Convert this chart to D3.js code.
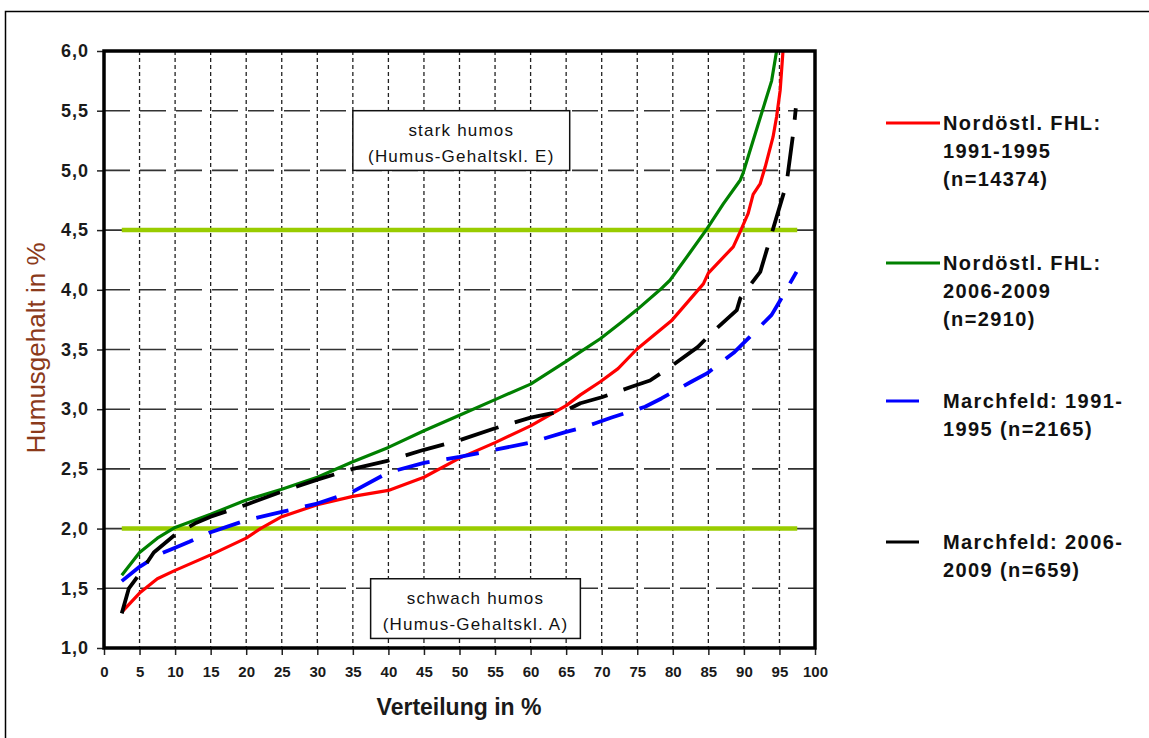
<!DOCTYPE html>
<html><head><meta charset="utf-8">
<script src="https://cdn.jsdelivr.net/npm/d3@7"></script>
<style>body{margin:0;background:#fff;} svg{display:block;}</style>
</head><body>
<svg id="c" width="1149" height="738"></svg>
<script>
// ---- data ----
const xTicks = [0,5,10,15,20,25,30,35,40,45,50,55,60,65,70,75,80,85,90,95,100];
const yTicks = [1.0,1.5,2.0,2.5,3.0,3.5,4.0,4.5,5.0,5.5,6.0];
const thresholds = [2.0, 4.5];

const redX = [2.5,5,7.5,10,15,20,22,25,30,35,40,45,50,55,60,65,67,69.8,72.3,74.9,79.8,84.3,85,88.5,89.5,90.6,91.3,92.3,93,94.1,94.6,95.1,95.5];
const redY = [1.30,1.46,1.58,1.65,1.78,1.92,2.0,2.10,2.20,2.27,2.32,2.43,2.59,2.72,2.86,3.03,3.12,3.23,3.34,3.50,3.74,4.05,4.14,4.36,4.49,4.64,4.80,4.89,5.03,5.28,5.45,5.67,6.0];

const greenX = [2.5,5,7.5,10,15,20,25,30,35,40,45,50,55,60,65,67,69.8,72.6,74.9,78.2,79.6,82.4,84.8,87.1,89.5,89.9,91.3,92.5,93.9,94.6];
const greenY = [1.61,1.80,1.92,2.01,2.12,2.24,2.33,2.43,2.56,2.68,2.82,2.95,3.08,3.21,3.40,3.48,3.59,3.72,3.83,4.0,4.08,4.31,4.51,4.72,4.92,4.98,5.25,5.48,5.75,6.0];

const blueX = [2.5,5,8,10,12,15,20,25,30,35,40,45,50,55,60,65,67,69,71.4,76.1,78.4,82.6,84.8,88.7,90.4,93.9,95.1,97.4];
const blueY = [1.56,1.68,1.79,1.84,1.89,1.97,2.07,2.14,2.21,2.31,2.47,2.55,2.60,2.66,2.72,2.81,2.84,2.88,2.93,3.02,3.09,3.23,3.30,3.48,3.58,3.79,3.91,4.15];

const blackX = [2.5,3.5,5,7,10,13,15,20,25,30,35,40,45,50,55,60,65,67,70,74.3,76.8,80,83.5,85.5,89,89.5,92.3,93.2,96,97,97.3];
const blackY = [1.29,1.50,1.62,1.80,1.95,2.05,2.10,2.20,2.31,2.41,2.50,2.57,2.66,2.74,2.84,2.93,2.99,3.05,3.10,3.19,3.24,3.37,3.52,3.64,3.83,3.93,4.15,4.33,4.89,5.34,5.52];

const seriesNames = [
  ["Nordöstl. FHL:", "1991-1995", "(n=14374)"],
  ["Nordöstl. FHL:", "2006-2009", "(n=2910)"],
  ["Marchfeld: 1991-", "1995 (n=2165)"],
  ["Marchfeld: 2006-", "2009 (n=659)"]
];
const boxTexts = [
  {x1:35, x2:65.5, y1:5.5, y2:5.0, lines:["stark humos","(Humus-Gehaltskl. E)"]},
  {x1:37.5, x2:67, y1:1.58, y2:1.08, lines:["schwach humos","(Humus-Gehaltskl. A)"]}
];

// ---- chart ----
const svg = d3.select("#c");
const X = d3.scaleLinear().domain([0,100]).range([104,815]);
const Y = d3.scaleLinear().domain([1,6]).range([648,51]);
const fmt = d => d3.format(".1f")(d).replace(".", ",");
const FF = "Liberation Sans, Arial, sans-serif";

// outer frame
svg.append("path").attr("d","M5.5,738 L5.5,11.5 L1149,11.5").attr("fill","none").attr("stroke","#000").attr("stroke-width",1.5);

// vertical grid
svg.append("g").selectAll("line").data(xTicks.filter(d=>d>0&&d<100)).join("line")
  .attr("x1",d=>X(d)).attr("x2",d=>X(d)).attr("y1",Y(6)).attr("y2",Y(1))
  .attr("stroke","#222").attr("stroke-width",1.3).attr("stroke-dasharray","4,3");
// horizontal grid
svg.append("g").selectAll("line").data(yTicks.filter(d=>d>1&&d<6)).join("line")
  .attr("x1",X(0)).attr("x2",X(100)).attr("y1",d=>Y(d)).attr("y2",d=>Y(d))
  .attr("stroke","#333").attr("stroke-width",1.6).attr("stroke-dasharray","26,10");

// axes
const yAxis = d3.axisLeft(Y).tickValues(yTicks).tickFormat(fmt).tickSize(7).tickPadding(8);
const gy = svg.append("g").attr("transform",`translate(${X(0)},0)`).call(yAxis);
gy.select(".domain").remove();
gy.selectAll("line").attr("stroke","#222").attr("stroke-width",1.5);
gy.selectAll("text").attr("font-family",FF).attr("font-weight","bold")
  .attr("font-size",18).attr("fill","#1a1a1a").attr("letter-spacing","1px");

const xAxis = d3.axisBottom(X).tickValues(xTicks).tickSize(7).tickPadding(11);
const gx = svg.append("g").attr("transform",`translate(0,${Y(1)})`).call(xAxis);
gx.select(".domain").remove();
gx.selectAll("line").attr("stroke","#222").attr("stroke-width",1.5);
gx.selectAll("text").attr("font-family",FF).attr("font-weight","bold")
  .attr("font-size",15).attr("fill","#1a1a1a");

// threshold lines
svg.append("g").selectAll("line").data(thresholds).join("line")
  .attr("x1",X(2.5)).attr("x2",X(97.5)).attr("y1",d=>Y(d)).attr("y2",d=>Y(d))
  .attr("stroke","#99cc00").attr("stroke-width",4.5);

// text boxes
const bx = svg.append("g").selectAll("g").data(boxTexts).join("g");
bx.append("rect").attr("x",d=>X(d.x1)).attr("y",d=>Y(d.y1)).attr("width",d=>X(d.x2)-X(d.x1)).attr("height",d=>Y(d.y2)-Y(d.y1))
  .attr("fill","#fff").attr("stroke","#111").attr("stroke-width",1.5);
bx.each(function(d){
  const g = d3.select(this);
  const cx = (X(d.x1)+X(d.x2))/2, top = Y(d.y1);
  d.lines.forEach((t,i)=>{
    g.append("text").attr("x",cx).attr("y",top+25+i*26).attr("text-anchor","middle")
      .attr("font-family",FF).attr("font-size",17).attr("fill","#111")
      .attr("letter-spacing","1.2px").text(t);
  });
});

// series
const series = [
  {x:redX, y:redY, color:"#ff0000", dash:null, w:3.2},
  {x:greenX, y:greenY, color:"#008000", dash:null, w:3.2},
  {x:blueX, y:blueY, color:"#0000ff", dash:"33,17", w:3.8},
  {x:blackX, y:blackY, color:"#000000", dash:"40,17", w:3.8}
];
const line = d3.line().x(d=>X(d[0])).y(d=>Y(d[1]));
svg.append("g").selectAll("path").data(series).join("path")
  .attr("d",s=>line(d3.zip(s.x,s.y))).attr("fill","none").attr("stroke",s=>s.color)
  .attr("stroke-width",s=>s.w).attr("stroke-dasharray",s=>s.dash).attr("stroke-linejoin","round");

// plot border
svg.append("rect").attr("x",X(0)).attr("y",Y(6)).attr("width",X(100)-X(0)).attr("height",Y(1)-Y(6))
  .attr("fill","none").attr("stroke","#000").attr("stroke-width",3.5);

// axis titles
svg.append("text").attr("x",459).attr("y",715).attr("text-anchor","middle")
  .attr("font-family",FF).attr("font-weight","bold").attr("font-size",23)
  .attr("fill","#1a1a1a").text("Verteilung in %");
svg.append("text").attr("transform","translate(45,348) rotate(-90)").attr("text-anchor","middle")
  .attr("font-family",FF).attr("font-size",26)
  .attr("fill","#8b3a1a").text("Humusgehalt in %");

// legend
const legTop = [123, 263, 401, 542];
const legLen = [54, 54, 33, 33];
const lg = svg.append("g").selectAll("g").data(series).join("g")
  .attr("transform",(d,i)=>`translate(886,${legTop[i]})`);
lg.append("line").attr("x1",0).attr("x2",(d,i)=>legLen[i]).attr("y1",0).attr("y2",0)
  .attr("stroke",d=>d.color).attr("stroke-width",3.2);
lg.each(function(d,i){
  const g = d3.select(this);
  seriesNames[i].forEach((t,j)=>{
    g.append("text").attr("x",57).attr("y",7+j*28)
      .attr("font-family",FF).attr("font-weight","bold").attr("font-size",20)
      .attr("letter-spacing","1.4px").attr("fill","#111").text(t);
  });
});
</script>
</body></html>
